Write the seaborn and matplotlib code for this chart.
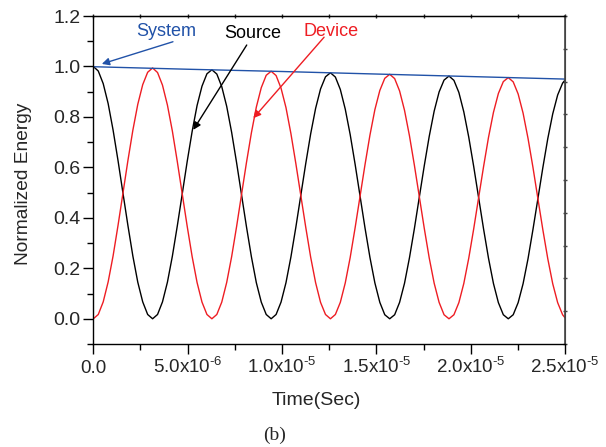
import numpy as np
import pandas as pd
import matplotlib
matplotlib.use("Agg")
import matplotlib.pyplot as plt
from matplotlib.ticker import MultipleLocator
import seaborn as sns

# ---------------- data ----------------
step_us = 0.2618                      # sampling step of the curves, microseconds
time_us = [round(k * step_us, 4) for k in range(96)] + [25.0]

source = [
    1.000, .982, .932, .853, .748, .627, .498, .370, .249, .145, .067, .017,
    0.000, .017, .067, .145, .248, .368, .495, .623, .742, .845, .922, .971,
    .987, .970, .920, .842, .739, .619, .492, .365, .246, .143, .066, .017,
    0.000, .017, .066, .143, .245, .363, .489, .615, .733, .834, .911, .959,
    .975, .958, .909, .831, .730, .612, .486, .360, .243, .142, .065, .016,
    0.000, .016, .065, .141, .242, .358, .483, .607, .723, .823, .899, .946,
    .962, .945, .897, .820, .720, .604, .480, .356, .240, .140, .064, .016,
    0.000, .016, .064, .139, .238, .354, .476, .599, .714, .812, .887, .934,
    .946,
]
device = [
    0.000, .017, .067, .146, .249, .370, .498, .627, .747, .850, .928, .977,
    .994, .976, .926, .847, .744, .623, .495, .367, .247, .144, .066, .017,
    0.000, .017, .066, .144, .246, .365, .492, .619, .737, .839, .916, .965,
    .981, .964, .914, .837, .734, .615, .489, .363, .244, .143, .065, .017,
    0.000, .017, .065, .142, .243, .361, .486, .611, .728, .829, .905, .953,
    .969, .952, .903, .826, .725, .608, .483, .358, .241, .141, .065, .016,
    0.000, .016, .064, .140, .240, .356, .480, .603, .719, .818, .893, .940,
    .956, .939, .891, .815, .715, .600, .476, .353, .238, .139, .064, .016,
    .004,
]
system_time_us = [0.0, 5.0, 10.0, 15.0, 20.0, 25.0]
system = [0.999, 0.989, 0.980, 0.970, 0.960, 0.950]

series_names = ["Source", "Device", "System"]
colors = {"Source": "#000000", "Device": "#ee1d23", "System": "#2152a8"}

HY = "\u2010"
xticks_s = [0.0, 5e-6, 1e-5, 1.5e-5, 2e-5, 2.5e-5]
xtick_labels = ["0.0",
                "5.0x10$^{\\mathregular{" + HY + "6}}$",
                "1.0x10$^{\\mathregular{" + HY + "5}}$",
                "1.5x10$^{\\mathregular{" + HY + "5}}$",
                "2.0x10$^{\\mathregular{" + HY + "5}}$",
                "2.5x10$^{\\mathregular{" + HY + "5}}$"]
yticks = [0.0, 0.2, 0.4, 0.6, 0.8, 1.0, 1.2]
ytick_labels = ["0.0", "0.2", "0.4", "0.6", "0.8", "1.0", "1.2"]

# ---------------- table ----------------
df = pd.concat([
    pd.DataFrame({"time": np.array(time_us) * 1e-6, "energy": source, "series": "Source"}),
    pd.DataFrame({"time": np.array(time_us) * 1e-6, "energy": device, "series": "Device"}),
    pd.DataFrame({"time": np.array(system_time_us) * 1e-6, "energy": system, "series": "System"}),
], ignore_index=True)

# ---------------- style ----------------
sns.set_style("ticks")
plt.rcParams["font.family"] = ["Liberation Sans", "DejaVu Sans"]
plt.rcParams["mathtext.fontset"] = "custom"
plt.rcParams["mathtext.rm"] = "Liberation Sans"
plt.rcParams["mathtext.it"] = "Liberation Sans:italic"
plt.rcParams["mathtext.bf"] = "Liberation Sans:bold"

fig = plt.figure(figsize=(6.06, 4.47), dpi=100)
ax = fig.add_axes([0.1540, 0.2304, 0.7784, 0.7338])

sns.lineplot(data=df, x="time", y="energy", hue="series", hue_order=series_names,
             palette=colors, legend=False, ax=ax, linewidth=1.0, sort=False,
             estimator=None)

ax.set_xlim(0, 2.5e-5)
ax.set_ylim(-0.1, 1.2)

ax.set_xticks(xticks_s)
ax.set_xticklabels(xtick_labels, fontsize=13.5)
ax.xaxis.set_minor_locator(MultipleLocator(2.5e-6))
ax.set_yticks(yticks)
ax.set_yticklabels(ytick_labels, fontsize=14)
ax.yaxis.set_minor_locator(MultipleLocator(0.1))

ax.tick_params(which="major", direction="out", length=7, width=1, color="black")
ax.tick_params(which="minor", direction="out", length=4, width=1, color="black")
ax.tick_params(axis="x", which="major", pad=14.2)
ax.tick_params(axis="y", which="major", pad=2.5)
for lab in ax.get_xticklabels():
    lab.set_verticalalignment("baseline")

for side in ["left", "bottom", "top"]:
    ax.spines[side].set_color("black")
    ax.spines[side].set_linewidth(1.0)
ax.spines["right"].set_color("#444444")
ax.spines["right"].set_linewidth(1.2)

# top ticks (small, through the spine)
top = ax.secondary_xaxis("top")
top.set_xticks([k * 2.5e-6 for k in range(11)])
top.tick_params(direction="inout", length=3, width=1, labeltop=False)
top.spines["top"].set_color("black")
# right ticks (10 divisions)
right = ax.secondary_yaxis("right")
right.set_yticks([-0.1 + 0.13 * k for k in range(11)])
right.tick_params(direction="inout", length=3, width=1, labelright=False, color="#444444")
right.spines["right"].set_color("#444444")

ax.set_xlabel("Time(Sec)", fontsize=14)
ax.xaxis.label.set_verticalalignment("baseline")
ax.xaxis.set_label_coords(0.472, -0.186)
ax.set_ylabel("Normalized Energy", fontsize=13.8)
ax.yaxis.label.set_verticalalignment("center")
ax.yaxis.set_label_coords(-0.149, 0.488)

# annotations
ax.text(3.85e-6, 1.14, "System", color=colors["System"], fontsize=13, ha="center", va="center")
ax.annotate("", xy=(0.45e-6, 1.010), xytext=(4.22e-6, 1.098),
            arrowprops=dict(arrowstyle="-|>", color=colors["System"], lw=1.0,
                            mutation_scale=11, shrinkA=0, shrinkB=0))
ax.text(8.44e-6, 1.13, "Source", color="black", fontsize=13, ha="center", va="center")
ax.annotate("", xy=(5.30e-6, 0.749), xytext=(8.13e-6, 1.085),
            arrowprops=dict(arrowstyle="-|>", color="black", lw=1.0,
                            mutation_scale=11, shrinkA=0, shrinkB=0))
ax.text(12.61e-6, 1.14, "Device", color=colors["Device"], fontsize=13, ha="center", va="center")
ax.annotate("", xy=(8.48e-6, 0.795), xytext=(12.23e-6, 1.116),
            arrowprops=dict(arrowstyle="-|>", color=colors["Device"], lw=1.0,
                            mutation_scale=11, shrinkA=0, shrinkB=0))

fig.text(274.7 / 606, 1 - 435 / 447, "(b)", fontsize=14, ha="center", va="center",
         family=["Liberation Serif", "DejaVu Serif"])

fig.savefig("out.png", dpi=100)
